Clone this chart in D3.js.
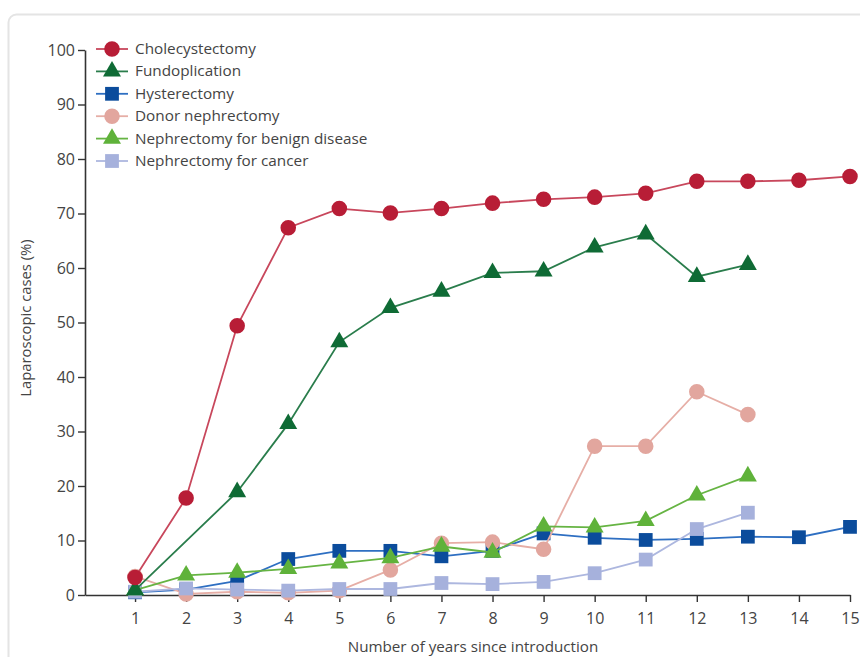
<!DOCTYPE html>
<html>
<head>
<meta charset="utf-8">
<script src="https://cdn.jsdelivr.net/npm/d3@7"></script>
<style>
  body { margin: 0; background: #fff; }
  text { font-family: "Open Sans", "Noto Sans", sans-serif; fill: #444; }
</style>
</head>
<body>
<svg id="chart"></svg>
<script>
const width = 860;
const height = 657;

// data
const years = [1, 2, 3, 4, 5, 6, 7, 8, 9, 10, 11, 12, 13, 14, 15];
const cholecystectomy = [3.2, 17.8, 49.4, 67.4, 70.9, 70.1, 70.9, 71.9, 72.6, 73.0, 73.7, 75.9, 75.9, 76.1, 76.8];
const fundoplication = [0.9, null, 18.9, 31.4, 46.4, 52.7, 55.7, 59.1, 59.4, 63.8, 66.2, 58.4, 60.6, null, null];
const hysterectomy = [0.5, 1.0, 2.6, 6.6, 8.1, 8.1, 7.1, 8.1, 11.3, 10.5, 10.1, 10.3, 10.7, 10.6, 12.5];
const donorNephrectomy = [3.4, 0.2, 0.6, 0.4, 0.8, 4.6, 9.5, 9.7, 8.4, 27.3, 27.3, 37.3, 33.1, null, null];
const benignNephrectomy = [0.9, 3.6, 4.1, 4.8, 5.8, 6.8, 8.9, 7.8, 12.6, 12.4, 13.6, 18.3, 21.8, null, null];
const cancerNephrectomy = [0.6, 1.2, 1.0, 0.8, 1.1, 1.1, 2.2, 2.0, 2.4, 4.0, 6.5, 12.1, 15.1, null, null];
const yTicks = [0, 10, 20, 30, 40, 50, 60, 70, 80, 90, 100];

const series = [
  {name: 'Cholecystectomy', values: cholecystectomy, shape: d3.symbolCircle, size: 190, fill: '#b81d36', line: '#c8475c'},
  {name: 'Fundoplication', values: fundoplication, shape: d3.symbolTriangle, size: 140, fill: '#0f6b35', line: '#2a7d4c'},
  {name: 'Hysterectomy', values: hysterectomy, shape: d3.symbolSquare, size: 190, fill: '#0b4c9c', line: '#2e6fc2'},
  {name: 'Donor nephrectomy', values: donorNephrectomy, shape: d3.symbolCircle, size: 190, fill: '#e2a69e', line: '#e6aea6'},
  {name: 'Nephrectomy for benign disease', values: benignNephrectomy, shape: d3.symbolTriangle, size: 140, fill: '#5fb23a', line: '#66b443'},
  {name: 'Nephrectomy for cancer', values: cancerNephrectomy, shape: d3.symbolSquare, size: 190, fill: '#a6b1dc', line: '#adb7df'}
];
// order the marks are stacked in (bottom first)
const drawOrder = ['Hysterectomy', 'Donor nephrectomy', 'Nephrectomy for cancer', 'Nephrectomy for benign disease', 'Fundoplication', 'Cholecystectomy'];

const svg = d3.select('#chart')
  .attr('width', width)
  .attr('height', height);

// card outline
svg.append('rect')
  .attr('x', 8.5).attr('y', 14.5)
  .attr('width', 900).attr('height', 700)
  .attr('rx', 8)
  .attr('fill', 'none')
  .attr('stroke', '#e4e4e4')
  .attr('stroke-width', 2);

const margin = {left: 85};

const xScale = d3.scaleLinear()
  .domain([0.02, 15])
  .range([85, 850]);

const yScale = d3.scaleLinear()
  .domain([0, 100])
  .range([595, 50]);

// axes
const yAxis = d3.axisLeft(yScale)
  .tickValues(yTicks)
  .tickSize(7)
  .tickPadding(3)
  .tickSizeOuter(0);

const xAxis = d3.axisBottom(xScale)
  .tickValues(years)
  .tickSize(7)
  .tickPadding(11)
  .tickSizeOuter(0);

const gy = svg.append('g')
  .attr('transform', `translate(${margin.left},0)`)
  .call(yAxis);

const gx = svg.append('g')
  .attr('transform', `translate(0,595)`)
  .call(xAxis);

[gx, gy].forEach(g => {
  g.select('.domain').attr('stroke', '#333').attr('stroke-width', 1.6);
  g.selectAll('.tick line').attr('stroke', '#333').attr('stroke-width', 1.4);
  g.selectAll('.tick text')
    .attr('font-size', 16)
    .attr('font-family', '"Open Sans", "Noto Sans", sans-serif')
    .attr('fill', '#444');
});

// axis titles
svg.append('text')
  .attr('x', 473).attr('y', 652)
  .attr('text-anchor', 'middle')
  .attr('font-size', 15.2)
  .text('Number of years since introduction');

svg.append('text')
  .attr('transform', 'translate(31,318) rotate(-90)')
  .attr('text-anchor', 'middle')
  .attr('font-size', 14.8)
  .text('Laparoscopic cases (%)');

// lines + markers
const line = d3.line()
  .x(d => xScale(d.x))
  .y(d => yScale(d.y));

const plot = svg.append('g');

drawOrder.forEach(name => {
  const s = series.find(d => d.name === name);
  const pts = years.map((x, i) => ({x: x, y: s.values[i]})).filter(d => d.y != null);
  const g = plot.append('g');
  g.append('path')
    .datum(pts)
    .attr('d', line)
    .attr('fill', 'none')
    .attr('stroke', s.line)
    .attr('stroke-width', 1.8);
  g.selectAll('path.mark').data(pts).enter().append('path')
    .attr('class', 'mark')
    .attr('d', d3.symbol().type(s.shape).size(s.size))
    .attr('transform', d => `translate(${xScale(d.x)},${yScale(d.y)})`)
    .attr('fill', s.fill);
});

// legend
const legend = svg.append('g');
series.forEach((s, i) => {
  const y = 49 + i * 22.4;
  const row = legend.append('g').attr('transform', `translate(0,${y})`);
  row.append('line')
    .attr('x1', 96).attr('x2', 128)
    .attr('stroke', s.line)
    .attr('stroke-width', 1.8);
  row.append('path')
    .attr('d', d3.symbol().type(s.shape).size(s.size))
    .attr('transform', 'translate(112,0)')
    .attr('fill', s.fill);
  row.append('text')
    .attr('x', 135).attr('y', 5)
    .attr('font-size', 15.3)
    .text(s.name);
});
</script>
</body>
</html>
